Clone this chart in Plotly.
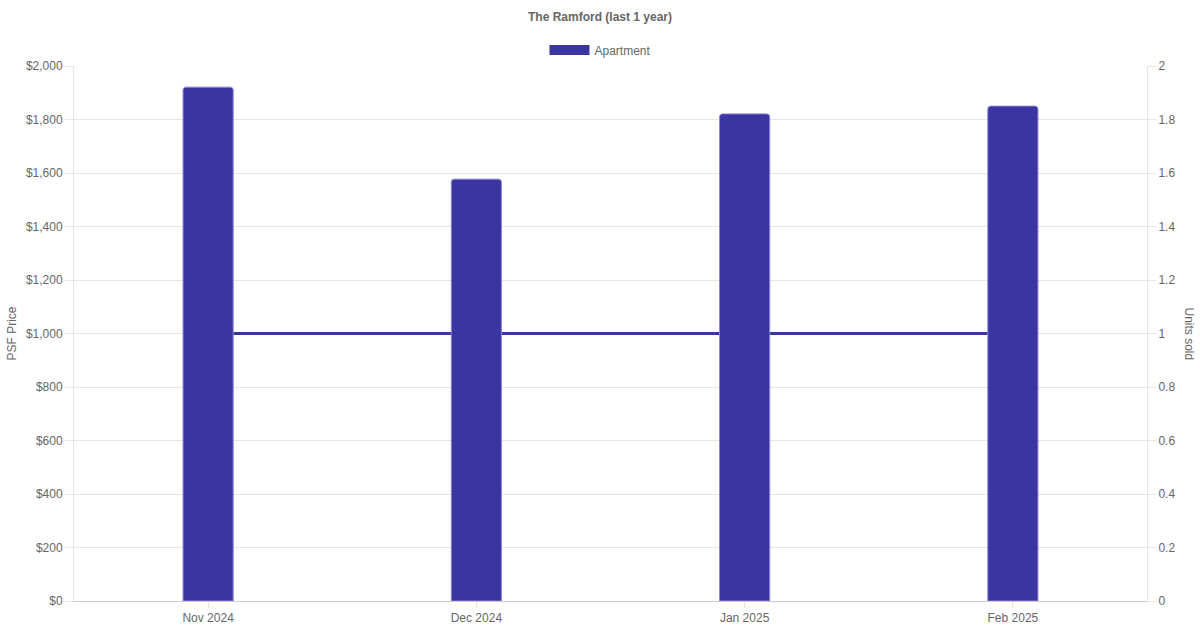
import plotly.graph_objects as go

###### Data

months = ["Nov 2024", "Dec 2024", "Jan 2025", "Feb 2025"]
psf_price = [1921, 1577, 1821, 1850]
units_sold = [1, 1, 1, 1]

psf_ticks = [0, 200, 400, 600, 800, 1000, 1200, 1400, 1600, 1800, 2000]
psf_labels = [f"${v:,}" for v in psf_ticks]
unit_ticks = [0, 0.2, 0.4, 0.6, 0.8, 1, 1.2, 1.4, 1.6, 1.8, 2]

###### Misc

BAR_COLOR = "#3a35a0"
GRID = "#e6e6e6"
TEXT = "#666666"
FONT = "Liberation Sans, Arial, sans-serif"

fig = go.Figure()

# units sold line sits on the primary axis so the bars can cover it
fig.add_trace(go.Scatter(
    x=months, y=units_sold, mode="lines", name="Units sold",
    line=dict(color=BAR_COLOR, width=3), showlegend=False,
    yaxis="y", hoverinfo="skip"
))

fig.add_trace(go.Bar(
    x=months, y=psf_price, name="Apartment", legendgroup="apt", showlegend=False,
    marker=dict(color=BAR_COLOR, line=dict(color="#8c88d4", width=1)),
    width=0.187, yaxis="y2"
))

# legend-only entry so the swatch is a wide box like the original
fig.add_trace(go.Scatter(
    x=[None], y=[None], mode="lines", name="Apartment", legendgroup="apt",
    line=dict(color=BAR_COLOR, width=12), yaxis="y2", hoverinfo="skip"
))

fig.update_layout(
    width=1200, height=630,
    margin=dict(l=74, r=53, t=66, b=29, autoexpand=False),
    paper_bgcolor="white", plot_bgcolor="white",
    font=dict(family=FONT, size=12, color=TEXT),
    barcornerradius=3,
    title=dict(text="<b>The Ramford (last 1 year)</b>", x=0.5, xanchor="center",
               yref="container", y=1 - 17 / 630, yanchor="middle",
               font=dict(size=12, color=TEXT)),
    legend=dict(orientation="h", x=0.5 - 10 / 1073, xanchor="center", y=1 + 16 / 535,
                yanchor="middle", itemwidth=40, font=dict(size=12, color=TEXT)),
    xaxis=dict(showgrid=False, showline=True, linecolor="#cccccc", automargin=False,
               ticks="outside", ticklen=6, tickcolor=GRID,
               tickfont=dict(size=12, color=TEXT)),
    yaxis=dict(side="right", range=[0, 2], tickvals=unit_ticks, automargin=False,
               showgrid=False, showline=True, linecolor=GRID, zeroline=False,
               ticks="outside", ticklen=8, tickcolor=GRID,
               tickfont=dict(size=12, color=TEXT)),
    yaxis2=dict(side="left", overlaying="y", range=[0, 2000], automargin=False,
                tickvals=psf_ticks, ticktext=psf_labels,
                showgrid=True, gridcolor=GRID, showline=True, linecolor=GRID,
                zeroline=False, ticks="outside", ticklen=8, tickcolor=GRID,
                tickfont=dict(size=12, color=TEXT)),
)

# axis titles placed by hand; the right one reads top to bottom
fig.add_annotation(
    text="PSF Price", textangle=-90, xref="paper", yref="paper",
    x=-63 / 1073, y=0.5, xanchor="center", yanchor="middle",
    showarrow=False, font=dict(size=12, color=TEXT)
)
fig.add_annotation(
    text="Units sold", textangle=90, xref="paper", yref="paper",
    x=1 + 42 / 1073, y=0.5, xanchor="center", yanchor="middle",
    showarrow=False, font=dict(size=12, color=TEXT)
)

# drop the default body margin so the figure fills the window
fig.write_html("out.html", config={"displayModeBar": False},
               post_script="document.body.style.margin='0';")
